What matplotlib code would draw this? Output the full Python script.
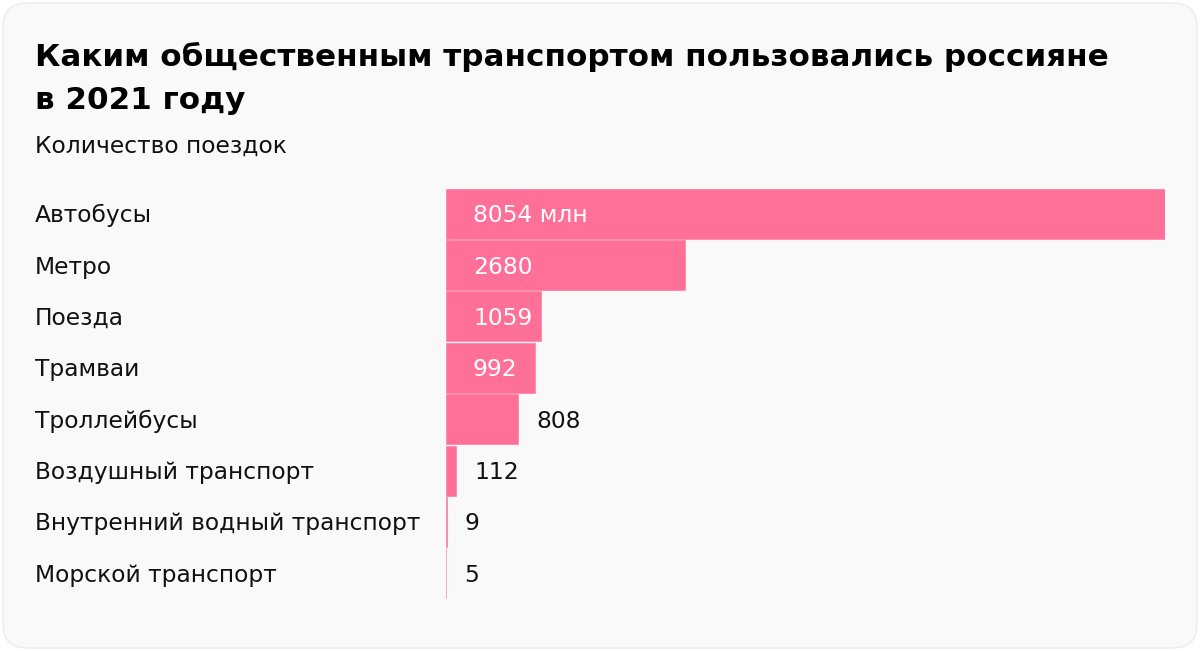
import matplotlib
matplotlib.use("Agg")
import matplotlib.pyplot as plt
from matplotlib.patches import FancyBboxPatch
from matplotlib.transforms import blended_transform_factory, offset_copy

categories = ["Автобусы", "Метро", "Поезда", "Трамваи", "Троллейбусы",
              "Воздушный транспорт", "Внутренний водный транспорт", "Морской транспорт"]
values = [8054, 2680, 1059, 992, 808, 112, 9, 5]
labels = ["8054 млн", "2680", "1059", "992", "808", "112", "9", "5"]

title_lines = ["Каким общественным транспортом пользовались россияне", "в 2021 году"]
subtitle = "Количество поездок"

W, H = 1200, 651
fig = plt.figure(figsize=(W / 100, H / 100), dpi=100)
fig.patch.set_facecolor("white")
TFONT = "DejaVu Sans"
FONT = "DejaVu Sans"
FS = 16.8
PX = 0.72  # points per pixel
BAR = "#ff7099"

card = FancyBboxPatch((3 / W, 3 / H), (W - 6) / W, (H - 6) / H,
                      boxstyle="round,pad=0,rounding_size=0.02",
                      transform=fig.transFigure, facecolor="#f9f9f9",
                      edgecolor="#ececec", linewidth=1.0, mutation_aspect=W / H,
                      zorder=-10)
fig.patches.append(card)

for i, line in enumerate(title_lines):
    fig.text(35 / W, 1 - (66 + 43 * i) / H, line, fontsize=22.3, fontweight="bold",
             family=TFONT, va="baseline", ha="left", color="#000000")
fig.text(35 / W, 1 - 153 / H, subtitle, fontsize=FS, family=FONT,
         va="baseline", ha="left", color="#111111")

left, right, top, bottom = 446, 1165, 188, 599
ax = fig.add_axes([left / W, (H - bottom) / H, (right - left) / W, (bottom - top) / H])
ax.set_facecolor("none")
ax.set_xlim(0, values[0])
n = len(categories)
ax.set_ylim(n - 0.5, -0.5)
ypos = list(range(n))
ax.barh(ypos, values, height=0.975, color=BAR, edgecolor=BAR, linewidth=0.4)
for s in ax.spines.values():
    s.set_visible(False)
ax.set_xticks([])
ax.set_yticks([])

trans_lab = offset_copy(blended_transform_factory(fig.transFigure, ax.transData),
                        fig=fig, x=0, y=-8.5 * PX, units="points")
px_per_unit = (right - left) / values[0]
for y, c, v, lab in zip(ypos, categories, values, labels):
    fig.text(35 / W, y, c, transform=trans_lab, fontsize=FS, family=FONT,
             va="baseline", ha="left", color="#111111")
    est_w = len(lab) * 14.5
    bar_px = v * px_per_unit
    if bar_px >= 28 + est_w + 8:
        t = offset_copy(ax.transData, fig=fig, x=27 * PX, y=-8.5 * PX, units="points")
        ax.text(0, y, lab, transform=t, fontsize=FS, family=FONT, va="baseline",
                ha="left", color="white")
    else:
        t = offset_copy(ax.transData, fig=fig, x=18 * PX, y=-8.5 * PX, units="points")
        ax.text(v, y, lab, transform=t, fontsize=FS, family=FONT, va="baseline",
                ha="left", color="#111111")

fig.savefig("out.png", dpi=100, facecolor="white")
